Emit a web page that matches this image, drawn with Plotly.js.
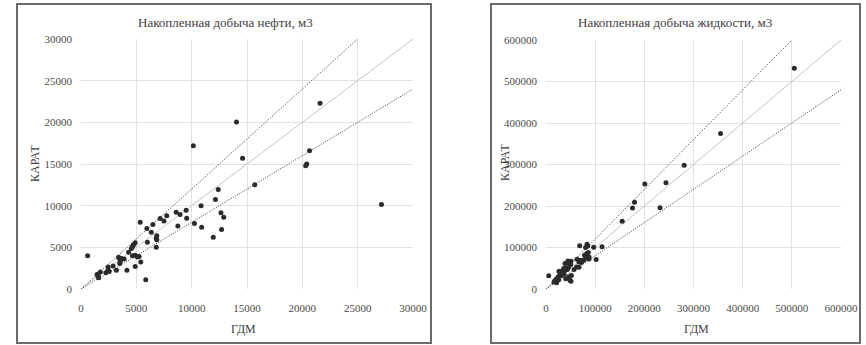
<!DOCTYPE html>
<html><head><meta charset="utf-8">
<script src="https://cdn.plot.ly/plotly-2.35.2.min.js"></script>
<style>html,body{margin:0;padding:0;background:#fff;}#chart{width:866px;height:345px;}</style>
</head><body><div id="chart"></div>
<script>
// Накопленная добыча нефти, м3
const oilTitle = "Накопленная добыча нефти, м3";
const oilGdm = [600,14050,10150,21600,14600,20650,20300,20400,15700,27150,12400,12150,10850,12650,12900,10900,12700,11950,10250,9500,9550,8950,8600,8750,7750,7500,7150,6500,6350,5950,5350,6000,6850,6800,6850,6800,5850,4900,4750,4650,4550,4300,4650,4900,5100,5250,5400,4900,4150,3900,3650,3400,3450,3550,3500,3200,2900,2450,2450,2550,2250,1750,1550,1450,1550,1600];
const oilKarat = [4000,20050,17200,22300,15700,16600,14800,15000,12500,10150,11950,10750,10000,9150,8600,7400,7150,6200,7850,9450,8500,8950,9200,7550,8800,8150,8450,7750,6800,7250,8000,5600,6400,6100,5900,5000,1100,5550,5300,5100,4850,4400,4000,4050,3850,3900,3250,2700,2250,3600,3650,3800,3700,3300,3050,2250,2750,2650,2300,2100,1950,2050,1800,1750,1500,1350];
// Накопленная добыча жидкости, м3
const liqTitle = "Накопленная добыча жидкости, м3";
const liqGdm = [5500,505000,355000,281000,201000,244000,180000,176000,232000,155000,114000,97000,102000,68500,80500,83500,85000,78300,83000,86000,87500,82000,77300,73200,71900,87500,67000,70000,63000,50800,57000,50300,44700,46800,42700,38700,50800,48800,46100,40100,36600,34600,31900,27900,24400,20300,17700,16300,41500,43500,45600,36000,26400,29300,31300,51600,67100,21700,25800,31200,62400,38000,33000];
const liqKarat = [32000,532000,375000,298000,253000,256000,209000,195000,196000,163000,102000,100500,71000,104000,100000,108000,103500,81300,85400,87800,77200,75700,70000,67600,64000,72400,65200,69300,71700,66800,46800,58900,67600,64400,62700,61300,18600,21000,29000,25000,35400,38600,41900,33000,29000,23400,19300,16900,49900,46800,51600,49100,42700,38600,32300,32300,52300,15300,22500,37000,53100,44000,36000];
// reference lines y = k * x
const slopes = [1.2, 1.0, 0.8];
const axisLabelX = "ГДМ";
const axisLabelY = "КАРАТ";
const oilMax = 30000, liqMax = 600000;

const serif = "Times New Roman, Liberation Serif, serif";
const lineStyles = [
  {color:'#3c3c3c', width:1, dash:'1px,1.5px'},
  {color:'#c4c4c4', width:1, dash:'solid'},
  {color:'#3c3c3c', width:1, dash:'1px,1.5px'}
];
const traces = [];
function addPanel(gx, gy, max, xa, ya){
  slopes.forEach((k,i)=>{
    const xe = Math.min(max, max/k);
    traces.push({x:[0,xe], y:[0,k*xe], mode:'lines', line:lineStyles[i], xaxis:xa, yaxis:ya, showlegend:false, hoverinfo:'skip'});
  });
  traces.push({x:gx, y:gy, mode:'markers', marker:{color:'#2b2b2b', size:5}, xaxis:xa, yaxis:ya, showlegend:false});
}
addPanel(oilGdm, oilKarat, oilMax, 'x', 'y');
addPanel(liqGdm, liqKarat, liqMax, 'x2', 'y2');

function ax(dom, max, dtick, anchor, standoff){
  return {domain:dom, range:[0,max], dtick:dtick, tickformat:'d', anchor:anchor,
    showgrid:true, gridcolor:'#e2e2e2', gridwidth:1, zeroline:false,
    showline:false, ticks:'', ticklabelstandoff:standoff,
    tickfont:{family:serif, size:11, color:'#4a4a4a'}, fixedrange:true};
}
const ttl = (text, x, y, size, angle) => ({text:text, xref:'paper', yref:'paper', x:x/866, y:(345-y)/345,
  showarrow:false, xanchor:'center', yanchor:'middle', textangle:angle||0,
  font:{family:serif, size:size, color:'#404040'}});
const layout = {
  width:866, height:345, margin:{l:0,r:0,t:0,b:0}, paper_bgcolor:'#fff', plot_bgcolor:'#fff',
  showlegend:false, font:{family:serif},
  xaxis: ax([81/866, 413/866], oilMax, 5000, 'y', 11),
  yaxis: ax([56/345, 306/345], oilMax, 5000, 'x', 8),
  xaxis2: ax([546/866, 841/866], liqMax, 100000, 'y2', 11),
  yaxis2: ax([56/345, 305/345], liqMax, 100000, 'x2', 8),
  shapes:[
    {type:'rect', xref:'paper', yref:'paper', x0:17/866, x1:431/866, y0:2/345, y1:341/345, line:{color:'#6a6a6a', width:2}},
    {type:'rect', xref:'paper', yref:'paper', x0:491/866, x1:860/866, y0:2/345, y1:341/345, line:{color:'#6a6a6a', width:2}}
  ],
  annotations:[
    ttl(oilTitle, 225, 23, 13),
    ttl(liqTitle, 675, 23, 13),
    ttl(axisLabelX, 243, 329, 12),
    ttl(axisLabelX, 696, 329, 12),
    ttl(axisLabelY, 35, 164, 12, -90),
    ttl(axisLabelY, 505, 163, 12, -90)
  ]
};
Plotly.newPlot('chart', traces, layout, {staticPlot:true, displayModeBar:false});
</script>
</body></html>
